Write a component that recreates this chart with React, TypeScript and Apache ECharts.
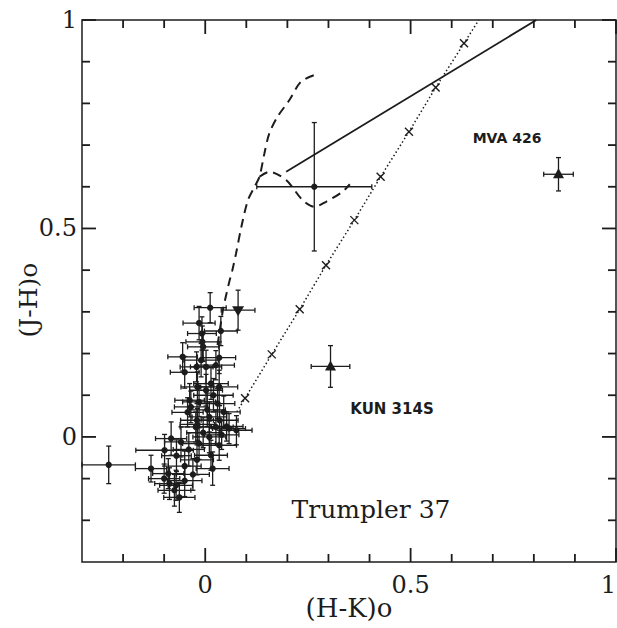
import React, { useEffect, useRef } from "react";
import * as echarts from "echarts";

// ---- axis ticks / labels ----
const X_MAJOR = [0, 0.5, 1];
const X_MINOR = [-0.2, -0.1, 0.1, 0.2, 0.3, 0.4, 0.6, 0.7, 0.8, 0.9];
const Y_MAJOR = [0, 0.5, 1];
const Y_MINOR = [-0.2, -0.1, 0.1, 0.2, 0.3, 0.4, 0.6, 0.7, 0.8, 0.9];
const X_NAME = "(H-K)o";
const Y_NAME = "(J-H)o";

// ---- cluster stars: (H-K)o, (J-H)o, x error, y error ----
const clusterX = [
  0.012, -0.015, 0.038, -0.008, -0.007, -0.005, -0.055, -0.01, 0.034, 0.026, -0.021, 0.002, -0.05,
  0.014, -0.019, 0.034, 0.002, 0.02, -0.015, -0.038, 0.03, -0.035, 0.005, -0.043, 0.045, 0.01, -0.02,
  0.035, -0.019, 0.052, -0.023, 0.026, 0.058, 0.076, 0.01, -0.005, 0.04,
  -0.083, -0.059, -0.015, 0.034, -0.099, -0.04, 0.014, -0.07, -0.02, -0.132, 0.018, -0.05, -0.09,
  -0.03, -0.087, -0.071, -0.05, -0.063, -0.075, -0.1, -0.235,
];
const clusterY = [
  0.31, 0.273, 0.254, 0.248, 0.228, 0.216, 0.192, 0.184, 0.19, 0.172, 0.168, 0.168, 0.155,
  0.128, 0.12, 0.12, 0.112, 0.1, 0.084, 0.088, 0.08, 0.072, 0.065, 0.059, 0.06, 0.048, 0.04,
  0.04, 0.03, 0.025, 0.024, 0.024, 0.02, 0.016, 0.0, 0.01, 0.005,
  -0.004, -0.012, -0.016, -0.02, -0.032, -0.03, -0.044, -0.045, -0.055, -0.076, -0.076, -0.07, -0.088,
  -0.09, -0.112, -0.116, -0.105, -0.145, -0.128, -0.1, -0.067,
];
const clusterXErr = [
  0.039, 0.039, 0.04, 0.035, 0.04, 0.038, 0.036, 0.042, 0.04, 0.045, 0.04, 0.038, 0.035,
  0.042, 0.04, 0.045, 0.04, 0.048, 0.04, 0.036, 0.042, 0.04, 0.044, 0.038, 0.04, 0.042, 0.04,
  0.045, 0.042, 0.04, 0.038, 0.042, 0.04, 0.038, 0.04, 0.04, 0.042,
  0.038, 0.04, 0.04, 0.042, 0.07, 0.038, 0.04, 0.036, 0.04, 0.038, 0.04, 0.04, 0.038,
  0.04, 0.036, 0.04, 0.042, 0.038, 0.04, 0.038, 0.065,
];
const clusterYErr = [
  0.036, 0.04, 0.035, 0.04, 0.038, 0.035, 0.034, 0.04, 0.038, 0.035, 0.036, 0.04, 0.038,
  0.038, 0.036, 0.04, 0.038, 0.04, 0.035, 0.04, 0.036, 0.038, 0.04, 0.035, 0.038, 0.036, 0.04,
  0.035, 0.038, 0.035, 0.036, 0.04, 0.036, 0.035, 0.038, 0.036, 0.035,
  0.04, 0.036, 0.038, 0.036, 0.038, 0.04, 0.036, 0.038, 0.036, 0.032, 0.04, 0.036, 0.036,
  0.038, 0.038, 0.036, 0.038, 0.036, 0.038, 0.035, 0.045,
];

// ---- special stars: x, y, xerr, yerr, marker (0 dot, 1 up-triangle, 2 down-triangle) ----
const specialX = [0.08, 0.2655, 0.305, 0.86];
const specialY = [0.304, 0.6, 0.169, 0.63];
const specialXErr = [0.041, 0.14, 0.047, 0.036];
const specialYErr = [0.048, 0.154, 0.05, 0.04];
const specialMarker = [2, 0, 1, 1];

// ---- curves ----
const dashedMainX = [0.03, 0.043, 0.05, 0.058, 0.066, 0.075, 0.088, 0.104, 0.12, 0.132, 0.144, 0.156, 0.176, 0.205, 0.233, 0.266];
const dashedMainY = [0.22, 0.304, 0.336, 0.37, 0.4, 0.44, 0.504, 0.568, 0.6, 0.624, 0.68, 0.728, 0.768, 0.808, 0.852, 0.868];
const dashedBranchX = [0.132, 0.156, 0.197, 0.237, 0.266, 0.294, 0.334, 0.352];
const dashedBranchY = [0.624, 0.636, 0.616, 0.568, 0.552, 0.564, 0.588, 0.606];
const reddeningX = [0.077, 0.097, 0.162, 0.23, 0.294, 0.363, 0.427, 0.496, 0.561, 0.63, 0.666];
const reddeningY = [0.06, 0.093, 0.198, 0.306, 0.412, 0.52, 0.624, 0.732, 0.838, 0.944, 1.0];
const crossX = [0.097, 0.162, 0.23, 0.294, 0.363, 0.427, 0.496, 0.561, 0.63];
const crossY = [0.093, 0.198, 0.306, 0.412, 0.52, 0.624, 0.732, 0.838, 0.944];
const solidX = [0.197, 0.806];
const solidY = [0.636, 1.0];

const INK = "#1c1c1c";
const SERIF = "DejaVu Serif";
const AX_MIN = -0.3;
const AX_MAX = 1;

const zip = (a: number[], b: number[]) => a.map((v, i) => [v, b[i]]);

function errorRender(params: any, api: any) {
  const x = api.value(0);
  const y = api.value(1);
  const ex = api.value(2);
  const ey = api.value(3);
  const m = api.value(4);
  const c = api.coord([x, y]);
  const l = api.coord([x - ex, y]);
  const r = api.coord([x + ex, y]);
  const t = api.coord([x, y + ey]);
  const b = api.coord([x, y - ey]);
  const cap = 2.5;
  const st = { stroke: INK, lineWidth: 1.3 };
  const children: any[] = [
    { type: "line", shape: { x1: l[0], y1: l[1], x2: r[0], y2: r[1] }, style: st },
    { type: "line", shape: { x1: t[0], y1: t[1], x2: b[0], y2: b[1] }, style: st },
    { type: "line", shape: { x1: l[0], y1: l[1] - cap, x2: l[0], y2: l[1] + cap }, style: st },
    { type: "line", shape: { x1: r[0], y1: r[1] - cap, x2: r[0], y2: r[1] + cap }, style: st },
    { type: "line", shape: { x1: t[0] - cap, y1: t[1], x2: t[0] + cap, y2: t[1] }, style: st },
    { type: "line", shape: { x1: b[0] - cap, y1: b[1], x2: b[0] + cap, y2: b[1] }, style: st },
  ];
  if (m === 1) {
    children.push({
      type: "polygon",
      shape: { points: [[c[0], c[1] - 6], [c[0] - 5.5, c[1] + 4], [c[0] + 5.5, c[1] + 4]] },
      style: { fill: INK },
    });
  } else if (m === 2) {
    children.push({
      type: "polygon",
      shape: { points: [[c[0], c[1] + 6], [c[0] - 6, c[1] - 4], [c[0] + 6, c[1] - 4]] },
      style: { fill: INK },
    });
  } else {
    children.push({ type: "circle", shape: { cx: c[0], cy: c[1], r: 3.2 }, style: { fill: INK } });
  }
  return { type: "group", children };
}

function crossRender(params: any, api: any) {
  const c = api.coord([api.value(0), api.value(1)]);
  const s = 4;
  const st = { stroke: INK, lineWidth: 1.4 };
  return {
    type: "group",
    children: [
      { type: "line", shape: { x1: c[0] - s, y1: c[1] - s, x2: c[0] + s, y2: c[1] + s }, style: st },
      { type: "line", shape: { x1: c[0] - s, y1: c[1] + s, x2: c[0] + s, y2: c[1] - s }, style: st },
    ],
  };
}

// tick marks on all four sides, inward, placed through the axis scales
function tickRender(params: any, api: any) {
  const cs = params.coordSys;
  const kind = api.value(2); // 0 = x tick, 1 = y tick
  const major = api.value(3);
  const len = major ? 14 : 8;
  const st = { stroke: INK, lineWidth: 1.8 };
  if (kind === 0) {
    const px = api.coord([api.value(0), AX_MIN])[0];
    const top = cs.y;
    const bot = cs.y + cs.height;
    return {
      type: "group",
      children: [
        { type: "line", shape: { x1: px, y1: bot, x2: px, y2: bot - len }, style: st },
        { type: "line", shape: { x1: px, y1: top, x2: px, y2: top + len }, style: st },
      ],
    };
  }
  const py = api.coord([AX_MIN, api.value(1)])[1];
  const left = cs.x;
  const right = cs.x + cs.width;
  return {
    type: "group",
    children: [
      { type: "line", shape: { x1: left, y1: py, x2: left + len, y2: py }, style: st },
      { type: "line", shape: { x1: right, y1: py, x2: right - len, y2: py }, style: st },
    ],
  };
}

export default function App() {
  const ref = useRef<HTMLDivElement>(null);
  useEffect(() => {
    if (!ref.current) return;
    const chart = echarts.init(ref.current, null, { renderer: "svg" });

    const labelStyle = { fontFamily: SERIF, fontSize: 24, color: INK };
    const base: any = {
      type: "value",
      min: AX_MIN,
      max: AX_MAX,
      splitLine: { show: false },
      axisLine: { show: false, onZero: false },
      axisTick: { show: false },
    };

    const clusterData = clusterX.map((v, i) => [v, clusterY[i], clusterXErr[i], clusterYErr[i], 0]);
    const specialData = specialX.map((v, i) => [v, specialY[i], specialXErr[i], specialYErr[i], specialMarker[i]]);
    const tickData = [
      ...X_MAJOR.map((v) => [v, AX_MIN, 0, 1]),
      ...X_MINOR.map((v) => [v, AX_MIN, 0, 0]),
      ...Y_MAJOR.map((v) => [AX_MIN, v, 1, 1]),
      ...Y_MINOR.map((v) => [AX_MIN, v, 1, 0]),
    ];

    chart.setOption({
      animation: false,
      backgroundColor: "#ffffff",
      grid: {
        left: 82,
        right: 1,
        top: 20,
        bottom: 66,
        show: true,
        borderColor: INK,
        borderWidth: 1.5,
        containLabel: false,
        outerBoundsMode: "none",
      },
      xAxis: {
        ...base,
        position: "bottom",
        axisLabel: {
          ...labelStyle,
          customValues: X_MAJOR,
          margin: 11,
          alignMaxLabel: "right",
          formatter: (v: number) => String(v),
        },
        name: X_NAME,
        nameLocation: "middle",
        nameGap: 33,
        nameMoveOverlap: false,
        nameTextStyle: { fontFamily: SERIF, fontSize: 26, color: INK },
      },
      yAxis: {
        ...base,
        position: "left",
        axisLabel: { ...labelStyle, customValues: Y_MAJOR, margin: 5, formatter: (v: number) => String(v) },
      },
      series: [
        {
          type: "custom",
          name: "ticks",
          renderItem: tickRender,
          data: tickData,
          encode: { x: 0, y: 1 },
          clip: false,
          silent: true,
          z: 10,
        },
        {
          type: "line",
          name: "dashed main",
          data: zip(dashedMainX, dashedMainY),
          smooth: 0.3,
          symbol: "none",
          lineStyle: { color: INK, width: 2, type: [9, 6] },
        },
        {
          type: "line",
          name: "dashed branch",
          data: zip(dashedBranchX, dashedBranchY),
          smooth: 0.3,
          symbol: "none",
          lineStyle: { color: INK, width: 2, type: [9, 6] },
        },
        {
          type: "line",
          name: "reddening",
          data: zip(reddeningX, reddeningY),
          symbol: "none",
          lineStyle: { color: INK, width: 1.5, type: [1.5, 2.5] },
        },
        {
          type: "line",
          name: "solid",
          data: zip(solidX, solidY),
          symbol: "none",
          lineStyle: { color: INK, width: 1.8, type: "solid" },
        },
        {
          type: "custom",
          name: "crosses",
          renderItem: crossRender,
          data: zip(crossX, crossY),
          encode: { x: 0, y: 1 },
        },
        {
          type: "custom",
          name: "cluster",
          renderItem: errorRender,
          data: clusterData,
          encode: { x: 0, y: 1 },
        },
        {
          type: "custom",
          name: "special",
          renderItem: errorRender,
          data: specialData,
          encode: { x: 0, y: 1 },
        },
      ],
      graphic: [
        {
          type: "text",
          x: 28,
          y: 300,
          rotation: Math.PI / 2,
          style: {
            text: Y_NAME,
            fontFamily: SERIF,
            fontSize: 25,
            fill: INK,
            textAlign: "center",
            textVerticalAlign: "middle",
            align: "center",
            verticalAlign: "middle",
          },
        },
        {
          type: "text",
          x: 507,
          y: 138,
          style: {
            text: "MVA 426",
            fontFamily: "DejaVu Sans",
            fontWeight: "bold",
            fontSize: 14,
            fill: INK,
            textAlign: "center",
            textVerticalAlign: "middle",
            align: "center",
            verticalAlign: "middle",
          },
        },
        {
          type: "text",
          x: 392,
          y: 409,
          style: {
            text: "KUN 314S",
            fontFamily: "DejaVu Sans",
            fontWeight: "bold",
            fontSize: 15,
            fill: INK,
            textAlign: "center",
            textVerticalAlign: "middle",
            align: "center",
            verticalAlign: "middle",
          },
        },
        {
          type: "text",
          x: 371,
          y: 509,
          style: {
            text: "Trumpler 37",
            fontFamily: SERIF,
            fontSize: 25,
            fill: INK,
            textAlign: "center",
            textVerticalAlign: "middle",
            align: "center",
            verticalAlign: "middle",
          },
        },
      ],
    });
    return () => chart.dispose();
  }, []);
  return (
    <div
      ref={ref}
      style={{ position: "fixed", left: 0, top: 0, width: 617, height: 628, background: "#fff" }}
    />
  );
}
